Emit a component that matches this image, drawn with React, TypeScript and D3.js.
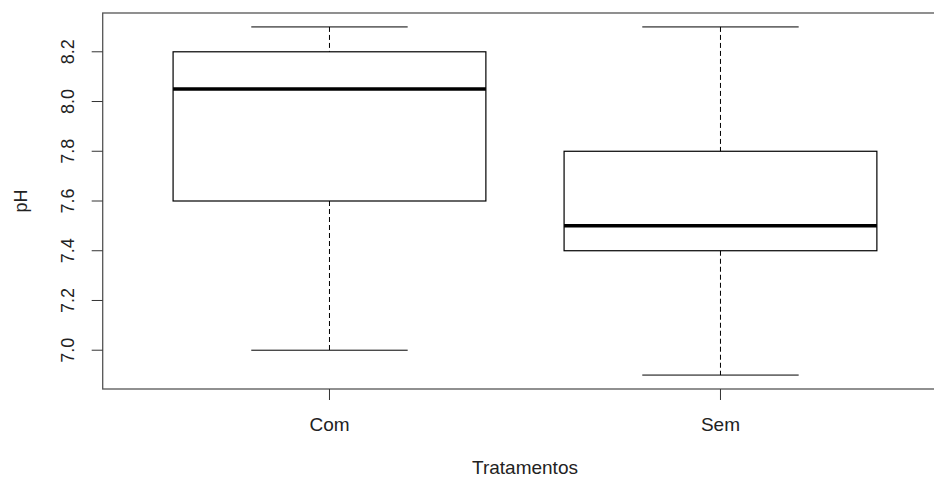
import * as d3 from 'd3';
import {useEffect, useRef} from "react";

// boxplot stats
const groups = ["Com", "Sem"];
const whiskerLow = [7.0, 6.9];
const boxLow = [7.6, 7.4];
const medians = [8.05, 7.5];
const boxHigh = [8.2, 7.8];
const whiskerHigh = [8.3, 8.3];
const yTicks = [7.0, 7.2, 7.4, 7.6, 7.8, 8.0, 8.2];

export default function App(){
    const svgRef = useRef<SVGSVGElement>(null);

    const width = 934;
    const height = 478;
    const margin = {top: 13, left: 102.7, bottom: 89};

    useEffect(() => {
        const svg = d3.select(svgRef.current)
            .attr('width', width)
            .attr('height', height);

        svg.selectAll("*").remove();

        // R style ranges: 0.5..n+0.5 plus 4%
        const lo = d3.min(whiskerLow) as number;
        const hi = d3.max(whiskerHigh) as number;
        const pad = (hi - lo) * 0.04;
        const yScale = d3.scaleLinear()
            .domain([lo - pad, hi + pad])
            .range([height - margin.bottom, margin.top]);

        const xScale = d3.scaleLinear()
            .domain([0.42, 2.58])
            .range([margin.left, margin.left + 2.16 * 391]);

        const font = "'Liberation Sans', Arial, sans-serif";
        const x0 = xScale.range()[0];
        const x1 = xScale.range()[1];
        const y0 = yScale.range()[0];
        const y1 = yScale.range()[1];

        // frame (runs past the right edge, like the cropped original)
        svg.append("rect")
            .attr("x", x0).attr("y", y1)
            .attr("width", x1 - x0).attr("height", y0 - y1)
            .attr("fill", "none").attr("stroke", "#555").attr("stroke-width", 1.3);

        // y axis
        const yAxis = svg.append("g");
        yAxis.selectAll("line")
            .data(yTicks)
            .enter().append("line")
            .attr("x1", x0 - 11).attr("x2", x0)
            .attr("y1", d => yScale(d)).attr("y2", d => yScale(d))
            .attr("stroke", "#333");
        yAxis.selectAll("text")
            .data(yTicks)
            .enter().append("text")
            .attr("transform", d => `translate(74,${yScale(d)}) rotate(-90)`)
            .attr("text-anchor", "middle")
            .attr("font-family", font)
            .attr("font-size", 18)
            .attr("fill", "#222")
            .text(d => d.toFixed(1));

        // x axis
        const xAxis = svg.append("g");
        xAxis.selectAll("line")
            .data(groups)
            .enter().append("line")
            .attr("x1", (d, i) => xScale(i + 1)).attr("x2", (d, i) => xScale(i + 1))
            .attr("y1", y0).attr("y2", y0 + 11)
            .attr("stroke", "#333");
        xAxis.selectAll("text")
            .data(groups)
            .enter().append("text")
            .attr("x", (d, i) => xScale(i + 1))
            .attr("y", 431)
            .attr("text-anchor", "middle")
            .attr("font-family", font)
            .attr("font-size", 19)
            .attr("fill", "#222")
            .text(d => d);

        // axis titles
        svg.append("text")
            .attr("x", (x0 + x1) / 2).attr("y", 474)
            .attr("text-anchor", "middle")
            .attr("font-family", font).attr("font-size", 19).attr("fill", "#222")
            .text("Tratamentos");
        svg.append("text")
            .attr("transform", `translate(27,${(y0 + y1) / 2}) rotate(-90)`)
            .attr("text-anchor", "middle")
            .attr("font-family", font).attr("font-size", 18).attr("fill", "#222")
            .text("pH");

        // boxes
        const g = svg.append("g");
        groups.forEach((name, i) => {
            const cx = xScale(i + 1);
            const bl = xScale(i + 1 - 0.4);
            const br = xScale(i + 1 + 0.4);
            const cl = xScale(i + 1 - 0.2);
            const cr = xScale(i + 1 + 0.2);

            // whiskers
            g.append("line")
                .attr("x1", cx).attr("x2", cx)
                .attr("y1", yScale(whiskerHigh[i])).attr("y2", yScale(boxHigh[i]))
                .attr("stroke", "#000").attr("stroke-dasharray", "5,3");
            g.append("line")
                .attr("x1", cx).attr("x2", cx)
                .attr("y1", yScale(boxLow[i])).attr("y2", yScale(whiskerLow[i]))
                .attr("stroke", "#000").attr("stroke-dasharray", "5,3");
            // caps
            g.append("line")
                .attr("x1", cl).attr("x2", cr)
                .attr("y1", yScale(whiskerHigh[i])).attr("y2", yScale(whiskerHigh[i]))
                .attr("stroke", "#000");
            g.append("line")
                .attr("x1", cl).attr("x2", cr)
                .attr("y1", yScale(whiskerLow[i])).attr("y2", yScale(whiskerLow[i]))
                .attr("stroke", "#000");
            // box
            g.append("rect")
                .attr("x", bl).attr("y", yScale(boxHigh[i]))
                .attr("width", br - bl)
                .attr("height", yScale(boxLow[i]) - yScale(boxHigh[i]))
                .attr("fill", "none").attr("stroke", "#000").attr("stroke-width", 1.2);
            // median
            g.append("line")
                .attr("x1", bl).attr("x2", br)
                .attr("y1", yScale(medians[i])).attr("y2", yScale(medians[i]))
                .attr("stroke", "#000").attr("stroke-width", 3.5);
        });

        return () => {};
    }, []);

    return (
        <div style={{position: "absolute", left: 0, top: 0, width: 934, height: 478, overflow: "hidden", background: "#fff"}}>
            <svg ref={svgRef} style={{display: "block"}}></svg>
        </div>
    );
}
